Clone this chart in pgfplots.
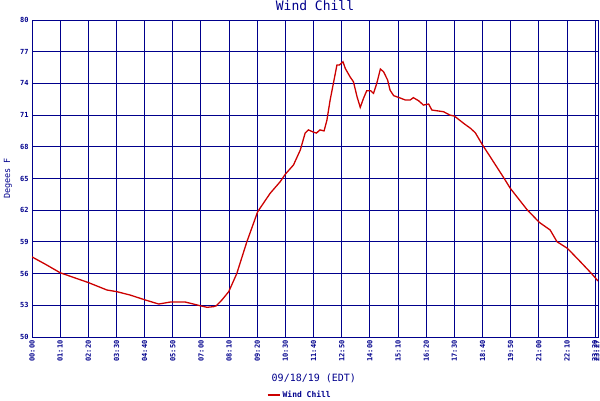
\documentclass[border=0pt]{standalone}
\usepackage{fontspec}
\setmainfont{DejaVu Sans Mono}
\usepackage{pgfplots}
\pgfplotsset{compat=1.18}
\definecolor{navy}{RGB}{0,0,140}
\definecolor{wred}{RGB}{204,0,0}
\pgfplotstableread{
t v
0 57.58
35 56.85
70 56.08
141 55.14
186 54.45
211 54.29
244 53.97
282 53.50
315 53.12
344 53.31
381 53.31
418 52.96
435 52.81
451 52.87
458 52.95
472 53.50
489 54.29
509 56.00
534 59.00
561 61.86
592 63.60
617 64.70
630 65.42
650 66.28
667 67.70
679 69.30
687 69.60
699 69.40
707 69.30
716 69.60
726 69.50
733 70.50
741 72.40
750 74.16
758 75.74
764 75.74
773 76.05
779 75.40
791 74.60
799 74.16
808 72.74
816 71.73
824 72.58
832 73.30
842 73.30
849 73.06
857 74.00
866 75.36
874 75.10
884 74.32
890 73.37
899 72.84
913 72.65
928 72.43
940 72.43
948 72.65
961 72.36
973 71.95
986 72.05
994 71.48
1023 71.32
1039 71.00
1050 70.91
1073 70.22
1090 69.75
1102 69.33
1120 68.17
1139 67.06
1172 65.11
1189 64.07
1230 62.08
1261 60.85
1288 60.13
1305 59.02
1331 58.39
1363 57.13
1392 55.96
1407 55.30
}\wind
\begin{document}
\begin{tikzpicture}[x=1pt,y=1pt]
\useasboundingbox (0,0) rectangle (600,400);
\begin{axis}[
  at={(32pt,63pt)}, anchor=south west,
  scale only axis, width=566pt, height=317pt,
  xmin=0, xmax=1407, ymin=50, ymax=80,
  xtick={0,70,140,210,280,350,420,490,560,630,700,770,840,910,980,1050,1120,1190,1260,1330,1400,1407},
  xticklabels={00:00,01:10,02:20,03:30,04:40,05:50,07:00,08:10,09:20,10:30,11:40,12:50,14:00,15:10,16:20,17:30,18:40,19:50,21:00,22:10,\raisebox{1pt}{23:20},\raisebox{2.5pt}{23:27}},
  ytick={50,53,56,59,62,65,68,71,74,77,80},
  grid=major,
  major grid style={navy, line width=1pt},
  axis line style={navy, line width=1pt},
  major tick length=0pt,
  /pgf/number format/assume math mode=true,
  tick label style={navy, font=\fontsize{7}{8}\selectfont\bfseries},
  x tick label style={rotate=90, anchor=east},
  title={Wind Chill},
  title style={navy, font=\fontsize{13}{14}\selectfont, at={(axis description cs:0.5,1)}, anchor=center, yshift=8pt},
  ylabel={Degees F},
  ylabel style={navy, font=\fontsize{8.5}{9}\selectfont, at={(axis description cs:-0.0424,0.5)}, anchor=center},
  xlabel={09/18/19 (EDT)},
  xlabel style={navy, font=\fontsize{10}{11}\selectfont, at={(axis description cs:0.498,-0.129)}, anchor=center},
  legend style={at={(axis description cs:0.473,-0.182)}, anchor=center, draw=none, fill=none,
    font=\fontsize{8}{9}\selectfont\bfseries\color{navy}, inner sep=0pt},
  legend image code/.code={\draw[wred, line width=2pt] (0pt,0pt) -- (12pt,0pt);},
]
\addplot[wred, line width=1.3pt] table[x=t, y=v] {\wind};
\addlegendentry{Wind Chill}
\end{axis}
\end{tikzpicture}
\end{document}
